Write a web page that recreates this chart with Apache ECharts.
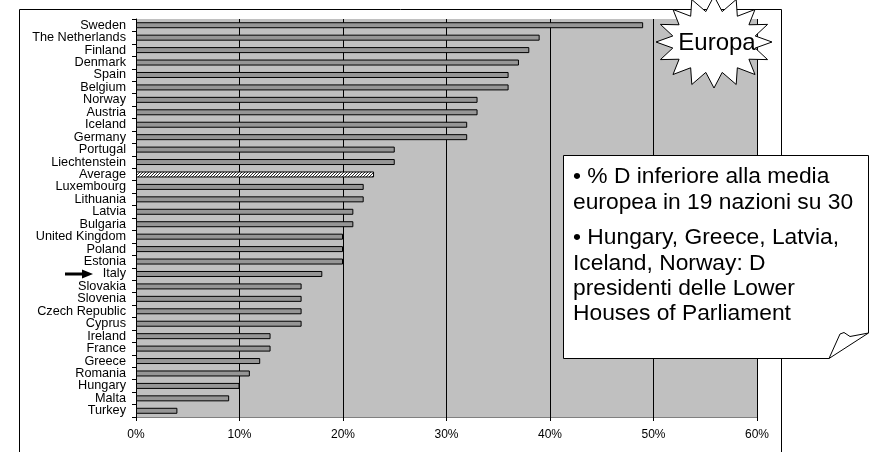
<!DOCTYPE html>
<html>
<head>
<meta charset="utf-8">
<script src="https://cdn.jsdelivr.net/npm/echarts@6/dist/echarts.min.js"></script>
<style>
html,body{margin:0;padding:0;background:#fff;}
#main{width:870px;height:452px;}
</style>
</head>
<body>
<div id="main"></div>
<script>
const categories = ['Sweden','The Netherlands','Finland','Denmark','Spain','Belgium','Norway','Austria','Iceland','Germany','Portugal','Liechtenstein','Average','Luxembourg','Lithuania','Latvia','Bulgaria','United Kingdom','Poland','Estonia','Italy','Slovakia','Slovenia','Czech Republic','Cyprus','Ireland','France','Greece','Romania','Hungary','Malta','Turkey'];
const values = [49,39,38,37,36,36,33,33,32,32,25,25,23,22,22,21,21,20,20,20,18,16,16,16,16,13,13,12,11,10,9,4];
const xTicks = [0,10,20,30,40,50,60];
const highlighted = 'Italy';
const averageName = 'Average';
const starLabel = 'Europa';
const note1 = '• % D inferiore alla media\neuropea in 19 nazioni su 30';
const note2 = '• Hungary, Greece, Latvia,\nIceland, Norway: D\npresidenti delle Lower\nHouses of Parliament';

const FONT = 'Liberation Sans, Arial, sans-serif';

// hatch pattern for Average bar
const pc = document.createElement('canvas');
pc.width = 3; pc.height = 3;
const pctx = pc.getContext('2d');
pctx.fillStyle = '#ffffff'; pctx.fillRect(0,0,3,3);
pctx.fillStyle = '#303030';
for (let x=0;x<3;x++) for (let y=0;y<3;y++) if ((x+y)%3===2) pctx.fillRect(x,y,1,1);

const chart = echarts.init(document.getElementById('main'), null, {renderer:'canvas'});

// star polygon
const starPts = [];
const cx=714, cy=42, n=16;
for (let i=0;i<2*n;i++){
  const a = Math.PI*i/n;
  const outer = i%2===0;
  const rx = outer?58:42, ry = outer?46:31;
  starPts.push([cx+rx*Math.cos(a), cy+ry*Math.sin(a)]);
}

const option = {
  animation:false,
  backgroundColor:'#ffffff',
  grid:{left:136, top:19, right:113, bottom:35, show:true, backgroundColor:'#c0c0c0', borderWidth:0},
  xAxis:{
    type:'value', min:xTicks[0], max:xTicks[xTicks.length-1], interval:10,
    axisLabel:{formatter:'{value}%', color:'#000', fontSize:12, fontFamily:FONT, margin:12},
    axisLine:{show:true, lineStyle:{color:'#808080', width:1}},
    axisTick:{show:true, length:4, lineStyle:{color:'#000'}},
    splitLine:{show:true, lineStyle:{color:'#000', width:1}}
  },
  yAxis:{
    type:'category', data:categories, inverse:true,
    axisLine:{show:true, lineStyle:{color:'#000', width:1}},
    axisTick:{show:true, length:4, lineStyle:{color:'#000'}},
    axisLabel:{color:'#000', fontSize:12.7, fontFamily:FONT, margin:10, interval:0},
    splitLine:{show:false}
  },
  series:[{
    type:'bar', barWidth:6,
    data: categories.map((c,i)=>({
      value: values[i],
      itemStyle: c===averageName ? {color:{image:pc, repeat:'repeat'}, borderColor:'#000', borderWidth:1} : undefined
    })),
    itemStyle:{color:'#969696', borderColor:'#000', borderWidth:1}
  }],
  graphic:[]
};
chart.setOption(option);

const italyY = chart.convertToPixel({yAxisIndex:0}, highlighted);

chart.setOption({
  graphic:[
    {type:'rect', silent:true, z:1, shape:{x:19.5, y:9.5, width:762, height:500}, style:{fill:'none', stroke:'#000', lineWidth:1}},
    {type:'polygon', silent:true, z:100, shape:{points:[[65,italyY-1.5],[82,italyY-1.5],[82,italyY-4.5],[93,italyY],[82,italyY+4.5],[82,italyY+1.5],[65,italyY+1.5]]}, style:{fill:'#000'}},
    {type:'polygon', silent:true, z:100, shape:{points:starPts}, style:{fill:'#fff', stroke:'#000', lineWidth:1}},
    {type:'text', silent:true, z:101, x:717, y:43, style:{text:starLabel, font:'24px '+FONT, fill:'#000', align:'center', verticalAlign:'middle'}},
    {type:'polygon', silent:true, z:100, shape:{points:[[563.5,155.5],[868.5,155.5],[868.5,333],[829,358.5],[563.5,358.5]]}, style:{fill:'#fff', stroke:'#000', lineWidth:1}},
    {type:'polyline', silent:true, z:101, shape:{points:[[829,358.5],[840,334],[844,332.5],[850,336.5],[868.5,333]]}, style:{fill:'none', stroke:'#000', lineWidth:1}},
    {type:'text', silent:true, z:101, x:573, y:164, style:{text:note1, font:'22.8px '+FONT, lineHeight:26, fill:'#000', align:'left', verticalAlign:'top'}},
    {type:'text', silent:true, z:101, x:573, y:225.5, style:{text:note2, font:'22.8px '+FONT, lineHeight:25.3, fill:'#000', align:'left', verticalAlign:'top'}}
  ]
});
</script>
</body>
</html>
